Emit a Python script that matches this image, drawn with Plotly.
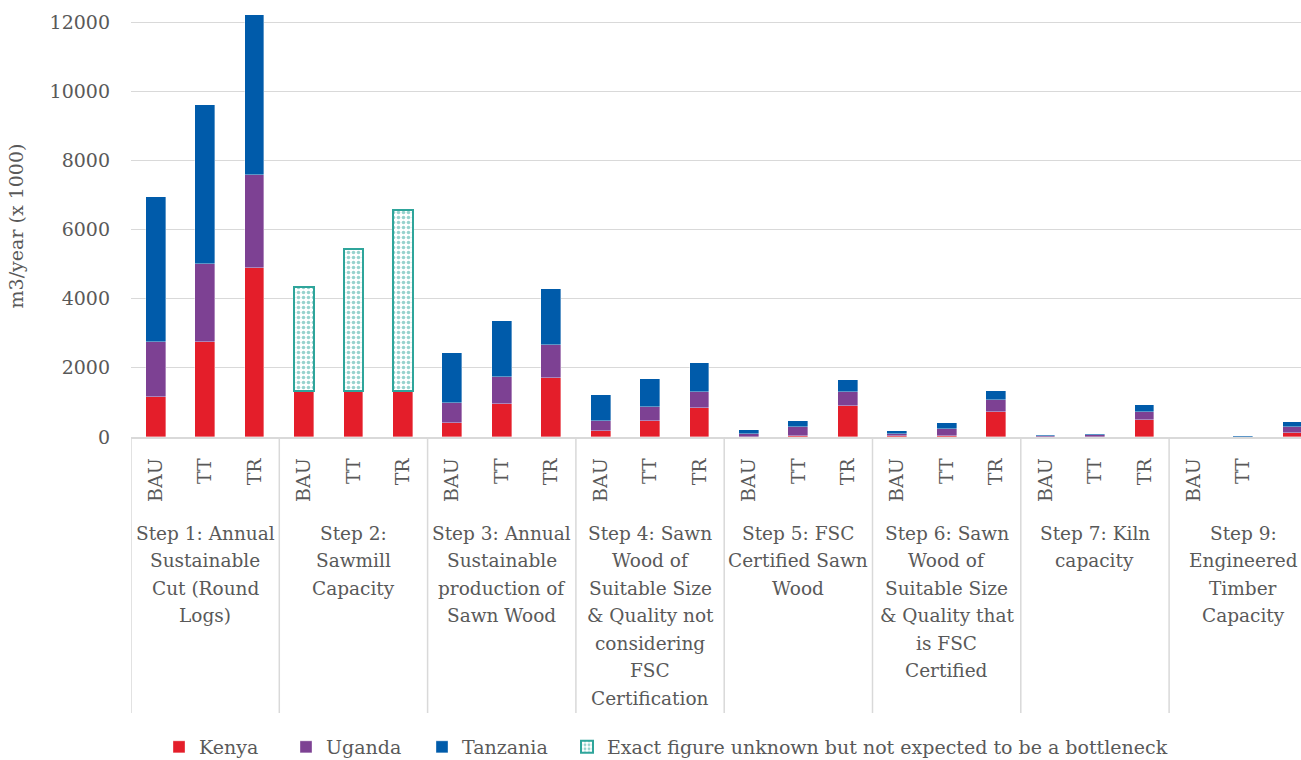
import plotly.graph_objects as go

# ---------------- data ----------------
scenarios = ["BAU", "TT", "TR"]
step_labels = [
    ["Step 1: Annual", "Sustainable", "Cut (Round", "Logs)"],
    ["Step 2:", "Sawmill", "Capacity"],
    ["Step 3: Annual", "Sustainable", "production of", "Sawn Wood"],
    ["Step 4: Sawn", "Wood of", "Suitable Size", "& Quality not", "considering", "FSC", "Certification"],
    ["Step 5: FSC", "Certified Sawn", "Wood"],
    ["Step 6: Sawn", "Wood of", "Suitable Size", "& Quality that", "is FSC", "Certified"],
    ["Step 7: Kiln", "capacity"],
    ["Step 9:", "Engineered", "Timber", "Capacity"],
]
kenya = [1170, 2740, 4880, 1330, 1330, 1330, 395, 945, 1700, 183, 472, 848,
         10, 40, 896, 15, 40, 722, 5, 10, 501, None, None, 125]
uganda = [1590, 2250, 2710, None, None, None, 580, 790, 955, 280, 385, 462,
          67, 250, 414, 62, 190, 338, 30, 40, 221, None, None, 155]
tanzania = [4190, 4600, 4620, None, None, None, 1445, 1620, 1620, 750, 810, 820,
            116, 172, 328, 87, 164, 270, 15, 30, 203, None, 20, 163]
unknown = [None, None, None, 3020, 4120, 5230, None, None, None, None, None, None,
           None, None, None, None, None, None, None, None, None, None, None, None]
y_ticks = [0, 2000, 4000, 6000, 8000, 10000, 12000]

# ---------------- style ----------------
FONT = "DejaVu Serif, Liberation Serif, serif"
TXT = "#595959"
GRID = "#D9D9D9"
FS = 19
FS_GROUP = 18.5
C_KEN = "#E41E2A"
C_UGA = "#7D4193"
C_TAN = "#005BAA"
C_UNK = "#2FA59B"

n = len(kenya)
xs = list(range(n))
ticktext = [scenarios[i % 3] for i in xs]

W, H = 1301, 760
L, T = 131, 15
B_PX = 437  # pixel of y=0
plot_h = B_PX - T
plot_w = W - L
slot = 148.3 / 3.0
x_max = -0.5 + plot_w / slot


def py(px):
    return (B_PX - px) / plot_h


def px_x(px):
    return (px - L) / plot_w


def fnt(size=FS):
    return dict(family=FONT, size=size, color=TXT)


line_edge = dict(width=0.8, color="rgba(255,255,255,0.45)")

fig = go.Figure()
fig.add_trace(go.Bar(x=xs, y=kenya, name="Kenya", marker=dict(color=C_KEN, line=line_edge),
                     width=0.4, legend="legend"))
fig.add_trace(go.Bar(x=xs, y=unknown, name="Exact figure unknown but not expected to be a bottleneck",
                     marker=dict(color="white", line=dict(width=2, color=C_UNK),
                                 pattern=dict(shape=".", fgcolor=C_UNK, bgcolor="white",
                                              size=5, solidity=0.4)),
                     width=0.4, legend="legend4"))
fig.add_trace(go.Bar(x=xs, y=uganda, name="Uganda", marker=dict(color=C_UGA, line=line_edge),
                     width=0.4, legend="legend2"))
fig.add_trace(go.Bar(x=xs, y=tanzania, name="Tanzania", marker=dict(color=C_TAN, line=line_edge),
                     width=0.4, legend="legend3"))

# group labels
annotations = []
for g, lines in enumerate(step_labels):
    for i, ln in enumerate(lines):
        annotations.append(dict(
            x=3 * g + 1, xref="x", y=py(533 + 27.5 * i), yref="paper",
            text=ln, showarrow=False, xanchor="center", yanchor="middle",
            font=fnt(FS_GROUP)))

# dividers
shapes = []
for g in range(len(step_labels)):
    shapes.append(dict(type="line", xref="x", yref="paper",
                       x0=3 * g - 0.5, x1=3 * g - 0.5, y0=0, y1=py(713),
                       line=dict(color=GRID, width=1.5)))


def leg(px):
    return dict(orientation="h", xanchor="left", yanchor="middle", x=px_x(px),
                y=py(747), font=fnt(), bgcolor="rgba(0,0,0,0)", borderwidth=0)


fig.update_layout(
    width=W, height=H,
    margin=dict(l=L, r=0, t=T, b=H - B_PX, autoexpand=False),
    paper_bgcolor="white", plot_bgcolor="white",
    barmode="stack", bargap=0,
    showlegend=True,
    legend=leg(195 - 36),
    legend2=leg(322 - 36),
    legend3=leg(458 - 36),
    legend4=leg(603 - 36),
    xaxis=dict(range=[-0.5, x_max], tickmode="array", tickvals=xs, ticktext=ticktext,
               tickangle=-90, showgrid=False, zeroline=False, showline=True,
               linecolor=GRID, linewidth=1.5, ticks="", ticklabelstandoff=12,
               tickfont=fnt(), fixedrange=True),
    yaxis=dict(range=[0, 12000 * plot_h / (B_PX - 22)], tickmode="array", tickvals=y_ticks,
               ticktext=[str(v) for v in y_ticks],
               showgrid=True, gridcolor=GRID, gridwidth=1.3, zeroline=False, showline=False,
               ticks="", ticklabelstandoff=20, tickfont=fnt(),
               title=dict(text="m3/year (x 1000)", standoff=20, font=fnt()),
               fixedrange=True),
    annotations=annotations,
    shapes=shapes,
)

fig.write_html("out.html")
